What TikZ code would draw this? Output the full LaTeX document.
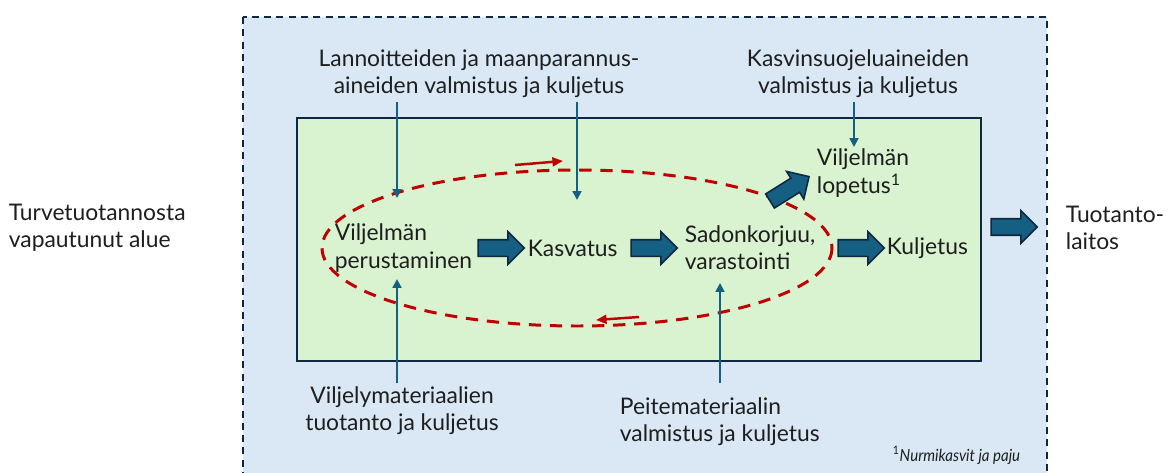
\documentclass[tikz,border=0pt]{standalone}
\usepackage{fontspec}
\setmainfont{Lato}
\newfontfamily\narrowfont[FakeStretch=0.9]{Lato}
\usetikzlibrary{arrows.meta,shapes.arrows}

\definecolor{areablue}{HTML}{DAE8F6}
\definecolor{fieldgreen}{HTML}{D9F2D0}
\definecolor{boxnavy}{HTML}{0E2841}
\definecolor{arrowblue}{HTML}{156082}
\definecolor{cyclered}{HTML}{C00000}
\definecolor{textgray}{HTML}{1E1E1E}

\tikzset{
  lbl/.style={align=center, inner sep=2pt, text=textgray, font=\fontsize{13}{15.5}\selectfont},
  lbll/.style={lbl, align=left},
  blockarrow/.style={single arrow, draw=boxnavy, fill=arrowblue, line width=0.9pt,
    minimum height=0.92cm, inner xsep=0pt, inner ysep=0.15cm, single arrow head extend=0.16cm},
  feed/.style={draw=arrowblue, line width=1.1pt, -{Triangle[width=5pt,length=5pt]}},
  cycleline/.style={draw=cyclered, line width=1.7pt, dash pattern=on 7pt off 5pt},
  cyclearrow/.style={draw=cyclered, line width=1.4pt, -{Triangle[width=5pt,length=6pt]}}
}

\begin{document}
\begin{tikzpicture}[x=0.02cm, y=-0.02cm]

  \clip (0, 0) rectangle (1176, 473);

  % areas
  \draw [fill=areablue, draw=boxnavy, line width=0.9pt, dash pattern=on 4pt off 3pt] (243, 17) rectangle (1047, 500);
  \draw [fill=fieldgreen, draw=boxnavy, line width=1.2pt] (297, 118) rectangle (981, 361);

  % cycle
  \draw [cycleline] (577, 248) ellipse [x radius=255, y radius=78];
  \coordinate (cyctopA) at (515, 165);
  \coordinate (cyctopB) at (563, 161);
  \coordinate (cycbotA) at (639, 317);
  \coordinate (cycbotB) at (596, 320);
  \draw [cyclearrow] (cyctopA) -- (cyctopB);
  \draw [cyclearrow] (cycbotA) -- (cycbotB);

  % outside texts
  \node [lbll, anchor=west] (turve) at (5, 228) {Turvetuotannosta\\vapautunut alue};
  \node [lbll, anchor=west] (laitos) at (1062, 228) {Tuotanto-\\laitos};
  \node [blockarrow] (out) at (1010, 227) {};

  % chain
  \node [lbll, anchor=west] (perust) at (331, 248) {Viljelmän\\perustaminen};
  \node [lbl, anchor=west] (kasvatus) at (524, 248) {Kasvatus};
  \node [lbll, anchor=west] (sadon) at (681, 248) {Sadonkorjuu,\\varastointi};
  \node [lbl, anchor=west] (kuljetus) at (883, 248) {Kuljetus};
  \node [lbll, anchor=west] (lopetus) at (813, 173) {Viljelmän\\lopetus\textsuperscript{1}};

  \node [blockarrow] (ba1) at (497, 248) {};
  \node [blockarrow] (ba2) at (650, 248) {};
  \node [blockarrow] (ba3) at (857, 248) {};
  \node [blockarrow, rotate=32] (ba4) at (786, 191) {};

  % inputs
  \node [lbl] (lann) at (479, 74) {Lannoitteiden ja maanparannus-\\aineiden valmistus ja kuljetus};
  \node [lbl] (kasvinsuo) at (858, 74) {Kasvinsuojeluaineiden\\valmistus ja kuljetus};
  \node [lbl] (viljmat) at (402, 411) {Viljelymateriaalien\\tuotanto ja kuljetus};
  \node [lbll, anchor=west] (peite) at (616, 422) {Peitemateriaalin\\valmistus ja kuljetus};

  \coordinate (in1) at (397, 198);
  \coordinate (in2) at (577, 200);
  \coordinate (in3) at (854, 147);
  \coordinate (in4) at (397, 279);
  \coordinate (in5) at (720, 283);

  \draw [feed] (lann.south -| in1) -- (in1);
  \draw [feed] (lann.south -| in2) -- (in2);
  \draw [feed] (kasvinsuo.south -| in3) -- (in3);
  \draw [feed] (viljmat.north -| in4) -- (in4);
  \draw [feed] (viljmat.north -| in5) -- (in5);

  \node [lbl, anchor=east, font=\narrowfont\fontsize{9.5}{11}\selectfont\itshape] (note) at (1024, 455) {\textsuperscript{\upshape 1}Nurmikasvit ja paju};

\end{tikzpicture}
\end{document}
